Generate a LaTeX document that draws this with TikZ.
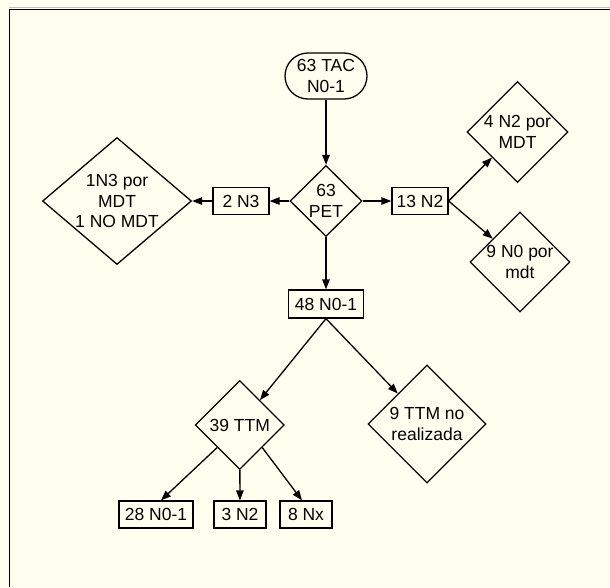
\documentclass[tikz,border=0pt]{standalone}
\usepackage{fontspec}
\setmainfont{Liberation Sans}
\usetikzlibrary{shapes.geometric,arrows.meta,calc}
\definecolor{bg}{RGB}{255,255,240}
\begin{document}
\begin{tikzpicture}[x=1pt,y=-1pt,
  font=\fontsize{17.5}{20.5}\selectfont,
  line width=1.3pt,
  >={Triangle[length=10pt,width=7.5pt]},
  box/.style={draw, rectangle, inner sep=0pt, minimum height=27pt},
  dia/.style={draw, diamond, inner sep=0pt},
  txt/.style={align=center, inner sep=0pt}]
\fill[bg] (0,0) rectangle (610,587);
\useasboundingbox (0,0) rectangle (610,587);
\draw[black!25, line width=1pt] (9,7.6) -- (610,7.6);
\draw[line width=1.4pt] (9.3,587) -- (9.3,9.3) -- (610,9.3);

\node[draw, rounded corners=23pt, minimum width=82pt, minimum height=46pt, inner sep=0pt, align=center] (tac) at (326,76) {63 TAC\\N0-1};
\node[dia, minimum width=72pt, minimum height=71pt, label={[txt]center:63\\PET}] (pet) at (326,201) {};
\node[box, minimum width=56pt] (n3) at (241,201) {2 N3};
\node[dia, minimum width=149pt, minimum height=127pt, label={[txt]center:1N3 por\\MDT\\1 NO MDT}] (n3d) at (117,201) {};
\node[box, minimum width=56pt] (n2) at (420,201) {13 N2};
\node[dia, minimum width=101pt, minimum height=101pt, label={[txt]center:4 N2 por\\MDT}] (n2d) at (517.5,132) {};
\node[dia, minimum width=100pt, minimum height=100pt, label={[txt]center:9 N0 por\\mdt}] (n0d) at (520,262) {};
\node[box, minimum width=75pt, minimum height=28pt] (n01) at (326,304) {48 N0-1};
\node[dia, minimum width=89pt, minimum height=89pt, label={[txt]center:39 TTM}] (ttm) at (239.7,425) {};
\node[dia, minimum width=118pt, minimum height=118pt, label={[txt]center:9 TTM no\\realizada}] (nottm) at (427,424) {};
\node[box, minimum width=74pt] (a28) at (156,514.5) {28 N0-1};
\node[box, minimum width=52pt] (b3) at (240,514.5) {3 N2};
\node[box, minimum width=52pt] (c8) at (306,514.5) {8 Nx};

\draw[->] (tac) -- (pet);
\draw[->] (pet) -- (n3);
\draw[->] (n3) -- (n3d);
\draw[->] (pet) -- (n2);
\draw[->] (n2.east) -- (n2d);
\draw[->] (n2.east) -- (n0d);
\draw[->] (pet) -- (n01);
\draw[->] (n01.south) -- (ttm);
\draw[->] (n01.south) -- (nottm);
\draw[->] (ttm.south west) -- ($(a28.north)+(5,0)$);
\draw[->] (ttm) -- (b3);
\draw[->] (ttm.south east) -- ($(c8.north)+(-4,0)$);
\end{tikzpicture}
\end{document}
